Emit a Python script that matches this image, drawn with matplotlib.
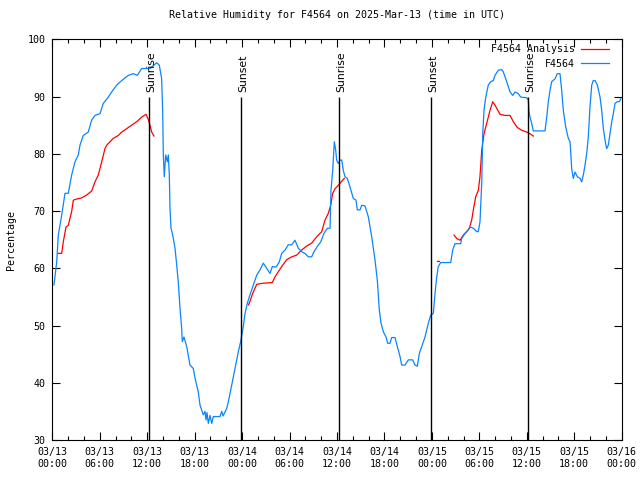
import numpy as np
import matplotlib
matplotlib.use("Agg")
import matplotlib.pyplot as plt
from datetime import datetime, timedelta

# hours after 2025-03-13 00:00 UTC
obs_hours = [0.21, 0.56, 0.76, 1.19, 1.61, 2.02, 2.45, 2.87, 3.29, 3.50, 3.92, 4.55,
             4.98, 5.40, 6.03, 6.45, 7.08, 7.51, 8.14, 8.78, 9.61, 10.24, 10.75, 11.30,
             12.35, 13.20, 13.53, 13.83, 13.96, 14.04, 14.16, 14.34, 14.54, 14.67, 14.80,
             14.88, 15.01, 15.23, 15.52, 15.73, 15.93, 16.15, 16.36, 16.44, 16.65, 17.00,
             17.41, 17.83, 18.05, 18.46, 18.68, 19.09, 19.31, 19.44, 19.56, 19.73, 19.94,
             20.16, 20.36, 21.21, 21.42, 21.59, 22.05, 22.26, 22.69, 23.10, 23.52, 23.82,
             24.15, 24.37, 24.66, 24.91, 25.21, 25.51, 25.85, 26.26, 26.68, 27.11, 27.53,
             27.82, 28.29, 28.70, 29.01, 29.43, 29.84, 30.27, 30.69, 31.11, 31.54, 31.95,
             32.37, 32.80, 33.09, 33.51, 33.94, 34.36, 34.78, 35.12, 35.24, 35.46, 35.66,
             35.84, 35.96, 36.17, 36.38, 36.60, 36.80, 37.01, 37.30, 37.65, 38.06, 38.40,
             38.57, 38.91, 39.13, 39.54, 39.96, 40.39, 40.81, 41.10, 41.35, 41.57, 41.86,
             42.20, 42.41, 42.70, 42.92, 43.34, 43.63, 43.97, 44.18, 44.60, 45.02, 45.57,
             45.86, 46.16, 46.41, 46.71, 47.13, 47.55, 47.85, 48.18, 48.39, 48.61, 48.81,
             49.11, 50.38, 50.63, 50.92, 51.64, 51.77, 52.19, 52.60, 52.82, 53.24, 53.67,
             53.87, 54.08, 54.30, 54.43, 54.59, 54.81, 55.13, 55.44, 55.77, 55.98, 56.40,
             56.83, 57.03, 57.46, 57.88, 58.22, 58.51, 58.93, 59.23, 59.99, 60.19, 60.28,
             60.41, 60.62, 60.82, 62.30, 62.52, 62.72, 62.94, 63.15, 63.57, 63.86, 64.20,
             64.41, 64.62, 64.92, 65.25, 65.47, 65.68, 65.88, 66.10, 66.39, 66.73, 66.94,
             67.15, 67.36, 67.58, 67.78, 67.99, 68.21, 68.41, 68.63, 68.92, 69.26, 69.47,
             69.68, 69.89, 70.10, 70.31, 70.52, 70.74, 70.94, 71.16, 71.45, 71.70, 71.88]
obs_rh = [57.1, 61.1, 65.8, 69.3, 73.1, 73.1, 76.3, 78.6, 79.8, 81.5, 83.2, 83.8,
          85.9, 86.7, 87.0, 88.8, 89.9, 90.8, 92.0, 92.8, 93.7, 94.0, 93.7, 94.9,
          94.9, 95.9, 95.5, 93.1, 87.3, 79.8, 76.0, 79.8, 78.6, 79.8, 76.3,
          70.5, 67.0, 65.8, 63.5, 60.6, 57.6, 53.0, 49.5, 47.2, 48.0, 46.3,
          43.1, 42.5, 40.8, 38.4, 36.1, 34.4, 35.0, 33.5, 34.8, 32.9, 34.3,
          32.9, 34.1, 34.1, 35.0, 34.2, 35.5, 36.7, 39.6, 42.5, 45.4, 47.2,
          49.8, 52.1, 53.9, 55.0, 56.2, 57.4, 58.8, 59.7, 60.9, 60.0, 59.1,
          60.3, 60.2, 61.1, 62.6, 63.2, 64.1, 64.1, 64.9, 63.5, 62.9, 62.6,
          62.0, 62.0, 62.9, 63.8, 64.6, 66.1, 67.0, 67.0, 73.6, 77.1, 82.1,
          80.6, 78.9, 78.3, 78.9, 78.9, 77.1, 76.0, 75.7, 74.2, 72.2, 71.9,
          70.2, 70.2, 71.0, 70.9, 69.0, 65.5, 61.4, 57.9, 52.7, 50.4, 48.9,
          48.0, 46.9, 46.9, 47.9, 47.9, 46.3, 44.6, 43.1, 43.1, 44.0, 44.0,
          43.1, 42.9, 45.1, 46.3, 48.0, 50.4, 51.8, 52.1, 55.5, 58.5, 60.3,
          61.0, 61.0, 63.2, 64.3, 64.3, 65.2, 66.1, 66.7, 67.2, 67.0, 66.4,
          66.4, 68.1, 74.8, 83.5, 87.6, 89.9, 92.0, 92.6, 92.8, 93.7, 94.6,
          94.7, 94.3, 92.6, 90.8, 90.2, 90.8, 90.5, 89.9, 89.8, 89.4, 87.3,
          86.4, 85.3, 84.0, 84.0, 86.4, 89.1, 91.1, 92.6, 93.1, 94.0, 94.0,
          91.1, 87.6, 84.7, 82.7, 82.1, 77.4, 75.7, 76.8, 76.0, 75.7, 75.1,
          76.3, 78.0, 80.1, 83.0, 88.2, 92.0, 92.8, 92.8, 92.0, 89.9, 87.6,
          84.4, 82.4, 80.9, 81.5, 83.5, 85.6, 87.0, 88.8, 89.1, 89.1, 89.6]

# analysis series, gaps marked with nan
ana_hours = [0.76, 1.19, 1.39, 1.73, 2.02, 2.45, 2.66, 3.09, 3.72, 4.35, 4.98, 5.40,
             5.82, 6.25, 6.66, 6.88, 7.30, 7.71, 8.35, 8.78, 9.41, 10.04, 10.67, 11.30,
             11.85, 12.14, 12.35, 12.57, 12.86, np.nan,
             24.79, 24.91, 25.34, 25.85, 26.68, 27.82, 28.16, 28.58, 29.01, 29.64, 30.27,
             30.91, 31.54, 32.17, 32.80, 33.43, 34.07, 34.48, 34.90, 35.20, 35.46, 35.75,
             36.17, 36.60, 36.92, np.nan,
             48.71, 48.96, np.nan,
             50.80, 51.14, 51.56, 51.97, 52.40, 52.73, 53.03, 53.24, 53.54, 53.87, 54.08,
             54.30, 54.59, 54.93, 55.35, 55.69, 55.98, 56.61, 57.25, 57.88, 58.30, 58.80,
             59.36, 59.99, 60.41, 60.82]
ana_rh = [62.6, 62.6, 64.6, 67.2, 67.5, 69.9, 71.9, 72.1, 72.3, 72.8, 73.5, 75.1,
          76.3, 78.6, 80.9, 81.5, 82.1, 82.7, 83.2, 83.8, 84.4, 85.0, 85.6, 86.4,
          86.9, 86.0, 85.0, 83.8, 83.1, np.nan,
          53.6, 53.9, 55.6, 57.2, 57.4, 57.5, 58.5, 59.4, 60.3, 61.5, 62.0,
          62.3, 63.2, 63.9, 64.4, 65.5, 66.4, 68.4, 69.6, 71.0, 73.1, 73.9,
          74.5, 75.2, 75.7, np.nan,
          61.2, 61.2, np.nan,
          65.8, 65.2, 64.9, 65.8, 66.4, 67.0, 68.4, 70.2, 72.5, 73.6, 76.0,
          80.6, 83.5, 85.3, 87.6, 89.1, 88.5, 86.9, 86.7, 86.7, 85.6, 84.6,
          84.1, 83.8, 83.5, 83.1]

event_hours = [12.27, 23.90, 36.29, 47.93, 60.20]
event_names = ["Sunrise", "Sunset", "Sunrise", "Sunset", "Sunrise"]

start = datetime(2025, 3, 13)
font = "DejaVu Sans Mono"
fs = 7.2

fig = plt.figure(figsize=(6.4, 4.8), dpi=100)
ax = fig.add_axes([0.0817, 0.0833, 0.8897, 0.8348])

ax.plot(ana_hours, ana_rh, color="#ff0000", lw=0.9, label="F4564 Analysis")
ax.plot(obs_hours, obs_rh, color="#0a84ff", lw=0.9, label="F4564")

for h, name in zip(event_hours, event_names):
    ax.vlines(h, 30, 90, color="black", lw=1.0)
    ax.text(h + 0.2, 90.8, name, rotation=90, ha="center", va="bottom",
            fontsize=fs + 0.6, family="DejaVu Sans")

ax.set_xlim(0, 72)
ax.set_ylim(30, 100)
xt = list(range(0, 73, 6))
ax.set_xticks(xt)
ax.set_xticklabels([(start + timedelta(hours=h)).strftime("%m/%d\n%H:%M") for h in xt],
                   family=font, fontsize=fs)
ax.set_xticks(range(0, 73, 2), minor=True)
ax.set_yticks(range(30, 101, 10))
ax.set_yticklabels([str(v) for v in range(30, 101, 10)], family=font, fontsize=fs)
ax.tick_params(which="both", direction="in", top=True, right=True, width=0.8)
ax.tick_params(which="major", length=6, pad=5)
ax.tick_params(which="minor", length=3)
for s in ax.spines.values():
    s.set_linewidth(0.8)

ax.set_ylabel("Percentage", family=font, fontsize=fs, labelpad=8)
ax.set_title("Relative Humidity for F4564 on 2025-Mar-13 (time in UTC)",
             family=font, fontsize=fs, pad=15)

leg = ax.legend(loc="upper right", bbox_to_anchor=(0.978, 0.988), frameon=False,
                markerfirst=False, borderpad=0, borderaxespad=0, handlelength=2.8,
                handletextpad=0.6, labelspacing=0.45, prop={"family": font, "size": fs})

fig.savefig("out.png", dpi=100)
